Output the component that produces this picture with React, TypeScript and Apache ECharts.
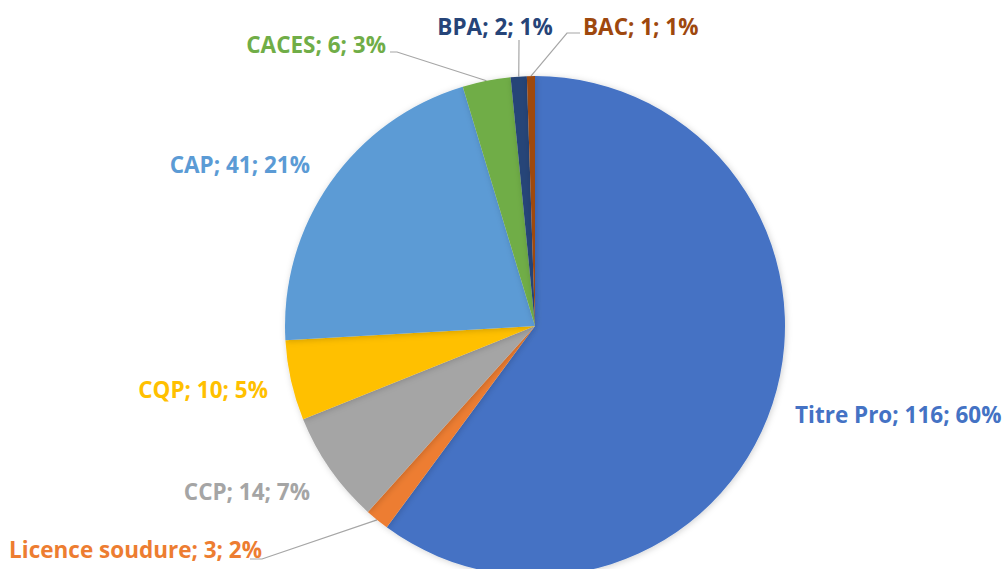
import React, { useEffect, useRef } from "react";
import * as echarts from "echarts";

const categories = ["Titre Pro", "Licence soudure", "CCP", "CQP", "CAP", "CACES", "BPA", "BAC"];
const values = [116, 3, 14, 10, 41, 6, 2, 1];
const colors = ["#4472C4", "#ED7D31", "#A5A5A5", "#FFC000", "#5B9BD5", "#70AD47", "#264478", "#9E480E"];
const withLine = [false, true, false, false, false, true, true, true];

// label anchors: [x, y, align]
const labelPos: [number, number, string][] = [
  [795, 414, "left"],
  [262, 549, "right"],
  [310, 491, "right"],
  [268, 389, "right"],
  [310, 164, "right"],
  [386, 44, "right"],
  [495, 26, "center"],
  [583, 26, "left"],
];

export default function App() {
  const ref = useRef<HTMLDivElement>(null);
  useEffect(() => {
    const chart = echarts.init(ref.current!, null, { renderer: "svg" });
    chart.setOption({
      animation: false,
      series: [
        {
          type: "pie",
          center: [535, 326],
          radius: 250,
          startAngle: 90,
          clockwise: true,
          percentPrecision: 0,
          avoidLabelOverlap: false,
          data: categories.map((name, i) => ({
            name,
            value: values[i],
            itemStyle: { color: colors[i] },
            label: { color: colors[i] },
            labelLine: { show: withLine[i] },
          })),
          itemStyle: {
            shadowBlur: 6,
            shadowColor: "rgba(0,0,0,0.18)",
            shadowOffsetX: 1,
            shadowOffsetY: 1,
          },
          label: {
            show: true,
            position: "outside",
            formatter: "{b}; {c}; {d}%",
            fontFamily: "Open Sans",
            fontWeight: "bold",
            fontSize: 22.5,
          },
          labelLine: {
            show: true,
            lineStyle: { color: "#A6A6A6", width: 1.2 },
          },
          labelLayout: (params: any) => {
            const i = params.dataIndex;
            const [x, y, align] = labelPos[i];
            const res: any = { x, y, align, verticalAlign: "middle" };
            const p0 = params.labelLinePoints ? params.labelLinePoints[0] : null;
            if (withLine[i] && p0) {
              if (i === 1) res.labelLinePoints = [p0, [262, 559], [250, 559]];
              else if (i === 5) res.labelLinePoints = [p0, [397, 52], [390, 52]];
              else if (i === 6) res.labelLinePoints = [p0, [519, 42], [519, 40]];
              else if (i === 7) res.labelLinePoints = [p0, [567, 33], [580, 33]];
            }
            return res;
          },
        },
      ],
    });
    return () => chart.dispose();
  }, []);
  return (
    <div
      ref={ref}
      style={{ position: "fixed", left: 0, top: 0, width: 1008, height: 569, background: "#fff" }}
    />
  );
}
